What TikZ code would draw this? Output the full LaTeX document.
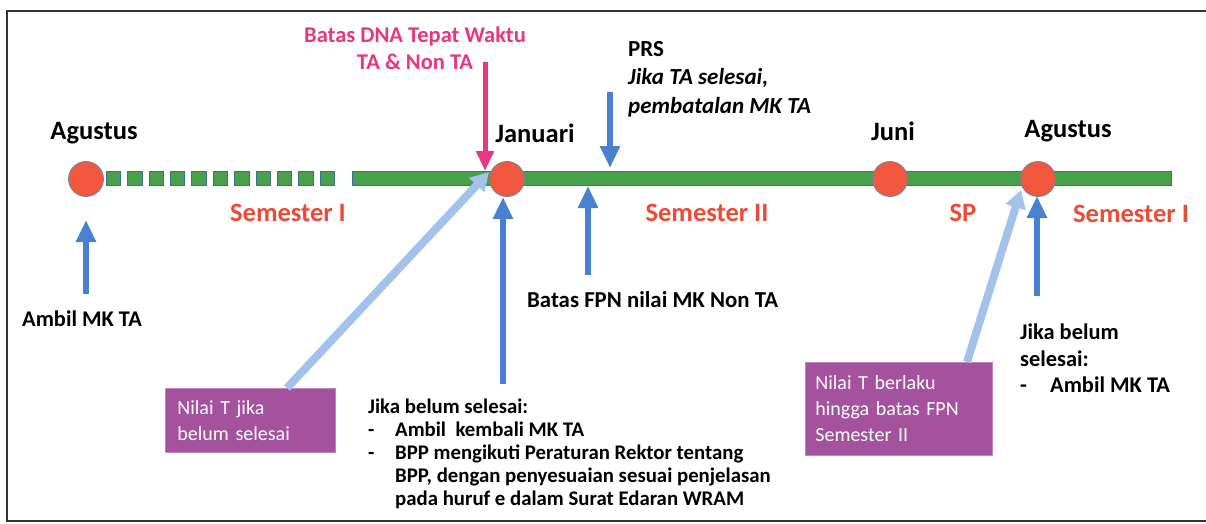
\documentclass[tikz,border=0pt]{standalone}
\usepackage{fontspec}
\setmainfont{Carlito}
\usetikzlibrary{arrows.meta}
\definecolor{dotred}{HTML}{F2583E}
\definecolor{dotedge}{HTML}{6A86A8}
\definecolor{linegreen}{HTML}{47A04B}
\definecolor{greenedge}{HTML}{3E7090}
\definecolor{arrblue}{HTML}{4A80D0}
\definecolor{lightblue}{HTML}{A3C2EA}
\definecolor{pinkc}{HTML}{E8367F}
\definecolor{boxpurple}{HTML}{A4529E}
\definecolor{semred}{HTML}{EE4B36}
\definecolor{framec}{HTML}{333333}
\begin{document}
\begin{tikzpicture}[x=1pt,y=-1pt,
  dot/.style={circle,fill=dotred,draw=dotedge,line width=0.8pt,minimum size=35pt,inner sep=0pt},
  month/.style={font=\fontsize{26.5}{30}\selectfont\bfseries,inner sep=0pt},
  sem/.style={font=\fontsize{26.5}{30}\selectfont\bfseries,text=semred,inner sep=0pt},
  lbl/.style={font=\fontsize{20.8}{23}\selectfont\bfseries,align=left,inner sep=0pt},
  pbox/.style={fill=boxpurple,draw=boxpurple!70!white,line width=0.8pt,text=white,
    font=\fontsize{20}{26}\selectfont,align=left,anchor=north west,inner xsep=12pt,inner ysep=0pt},
  bluearr/.style={draw=arrblue,line width=6pt,-{Triangle[width=19pt,length=22pt]}},
  lightarr/.style={draw=lightblue,line width=8pt,-{Triangle[width=20pt,length=18pt]}},
  pinkarr/.style={draw=pinkc,line width=5pt,-{Triangle[width=17pt,length=20pt]}},
  greenseg/.style={fill=linegreen,draw=greenedge,line width=0.6pt}
]
\useasboundingbox (0,0) rectangle (1206,524);
% frame
\draw[framec,line width=1.6pt] (1212,11) -- (7,11) -- (7,521) -- (1212,521);

% timeline
\foreach \i in {0,...,10} {
  \draw[greenseg] ({106+\i*21.4},171) rectangle ++(14.5,14);
}
\draw[greenseg] (352,171) rectangle (1171,185);

% month dots
\node[dot] (d1) at (86,179) {};
\node[dot] (d2) at (507,179) {};
\node[dot] (d3) at (890,179) {};
\node[dot] (d4) at (1038,179) {};

% month labels
\node[month] (m1) at (94,133) {Agustus};
\node[month] (m2) at (535,133) {Januari};
\node[month] (m3) at (893,131) {Juni};
\node[month] (m4) at (1068,131) {Agustus};

% semester labels
\node[sem] (s1) at (288,213) {Semester I};
\node[sem] (s2) at (707,213) {Semester II};
\node[sem] (s3) at (963,213) {SP};
\node[sem] (s4) at (1131,214) {Semester I};

% top pink label
\node[font=\fontsize{22.5}{27}\selectfont\bfseries,text=pinkc,align=center,inner sep=0pt] (dna) at (415,48)
  {Batas DNA Tepat Waktu\\TA \& Non TA};

% PRS label
\node[lbl,anchor=west,font=\fontsize{23}{28.5}\selectfont\bfseries] (prs) at (628,79)
  {PRS\\\textit{Jika TA selesai,}\\\textit{pembatalan MK TA}};

% other labels
\node[lbl,anchor=west,font=\fontsize{22.8}{26}\selectfont\bfseries] (fpn) at (527,300) {Batas FPN nilai MK Non TA};
\node[lbl,anchor=west,font=\fontsize{22.4}{26}\selectfont\bfseries] (ambil) at (22,319) {Ambil MK TA};
\node[lbl,anchor=north west] (jb1) at (368,399)
  {Jika belum selesai:\\
   \makebox[27pt][l]{-}Ambil\ \ kembali MK TA\\
   \makebox[27pt][l]{-}BPP mengikuti Peraturan Rektor tentang\\
   \hspace*{27pt}BPP, dengan penyesuaian sesuai penjelasan\\
   \hspace*{27pt}pada huruf e dalam Surat Edaran WRAM};
\node[lbl,anchor=north west,font=\fontsize{22.4}{26.5}\selectfont\bfseries] (jb2) at (1020,324)
  {Jika belum\\selesai:\\\makebox[30pt][l]{-}Ambil MK TA};

% purple boxes
\node[pbox,minimum width=170pt,minimum height=64pt,text width=146pt] (b1) at (165,388)
  {Nilai T jika\\belum selesai};
\node[pbox,minimum width=187pt,minimum height=93pt,text width=167pt,inner xsep=10pt] (b2) at (805,362)
  {Nilai T berlaku\\hingga batas FPN\\Semester II};

% arrow end points
\coordinate (pinks) at (485,62);
\coordinate (pinke) at (485,171);
\coordinate (prss) at (610,92);
\coordinate (prse) at (610,168);
\coordinate (a1s) at (86,294);
\coordinate (a1e) at (86,220);
\coordinate (a2s) at (503,384);
\coordinate (a2e) at (503,197);
\coordinate (a3s) at (588,275);
\coordinate (a3e) at (588,186);
\coordinate (a4s) at (1037,296);
\coordinate (a4e) at (1037,196);
\coordinate (l1s) at (287,388);
\coordinate (l1e) at (489,172);
\coordinate (l2s) at (967,362);
\coordinate (l2e) at (1021,190);

% arrows
\draw[lightarr] (l1s) -- (l1e);
\draw[lightarr] (l2s) -- (l2e);
\draw[pinkarr] (pinks) -- (pinke);
\draw[bluearr] (prss) -- (prse);
\draw[bluearr] (a1s) -- (a1e);
\draw[bluearr] (a2s) -- (a2e);
\draw[bluearr] (a3s) -- (a3e);
\draw[bluearr] (a4s) -- (a4e);
\end{tikzpicture}
\end{document}
